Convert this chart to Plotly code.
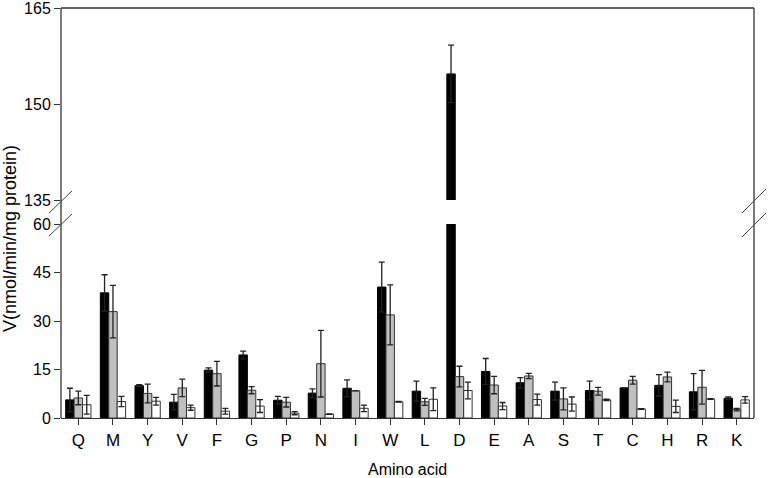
import plotly.graph_objects as go

amino_acids = ["Q","M","Y","V","F","G","P","N","I","W","L","D","E","A","S","T","C","H","R","K"]
black_vals = [5.6,38.7,10.0,4.9,14.8,19.5,5.5,7.7,9.2,40.5,8.3,154.7,14.4,10.9,8.3,8.5,9.3,10.1,8.1,6.1]
black_err  = [3.6,5.6,0.3,2.4,0.7,1.2,1.2,1.3,2.6,7.7,3.1,4.5,4.0,1.6,2.8,2.9,0.0,3.3,5.6,0.4]
gray_vals  = [6.2,32.9,7.6,9.3,13.7,8.6,4.9,16.8,8.4,31.9,5.0,12.8,10.2,13.0,5.9,8.3,11.7,12.7,9.5,2.6]
gray_err   = [2.1,8.1,2.9,2.7,3.8,1.1,1.5,10.3,0.0,9.3,1.1,3.2,2.7,0.8,3.4,1.2,1.2,1.5,5.2,0.4]
white_vals = [4.1,5.1,5.2,3.2,2.1,3.7,1.5,1.2,3.0,5.0,5.8,8.5,3.7,5.7,4.3,5.6,2.8,3.6,5.9,5.6]
white_err  = [2.9,1.6,1.2,0.8,0.9,2.0,0.5,0.1,1.0,0.1,3.5,2.6,1.1,1.7,2.2,0.2,0.1,1.9,0.1,1.0]
lower_ticks = [0, 15, 30, 45, 60]
upper_ticks = [135, 150, 165]

series = [
    (black_vals, black_err, "#000000", "#000000"),
    (gray_vals, gray_err, "#c0c0c0", "#333333"),
    (white_vals, white_err, "#ffffff", "#333333"),
]

fig = go.Figure()
for yax in ["y", "y2"]:
    for vals, errs, fill, line in series:
        fig.add_trace(go.Bar(
            x=amino_acids, y=vals, yaxis=yax, xaxis="x",
            marker=dict(color=fill, line=dict(color=line, width=1)),
            error_y=dict(type="data", array=errs, visible=True, color="#222222",
                         thickness=1.3, width=3),
            showlegend=False, hoverinfo="skip",
        ))

L, R, T, B = 61, 14, 8, 60
W, H = 768, 478
ph = H - T - B
pw = W - L - R
lower_top = (418 - 224) / ph
upper_bot = (418 - 200) / ph

def px(xp):
    return (xp - L) / pw

def py(yp):
    return (418 - yp) / ph

fig.update_layout(
    width=W, height=H,
    margin=dict(l=L, r=R, t=T, b=B, autoexpand=False),
    plot_bgcolor="white", paper_bgcolor="white",
    barmode="group", bargap=0.27, bargroupgap=0,
    font=dict(family="Liberation Sans, Arial", color="#000000"),
    xaxis=dict(range=[-0.5, 19.5], showline=True, linecolor="#333333", linewidth=1.3,
               ticks="outside", ticklen=6, tickcolor="#333333", tickfont=dict(size=17),
               showgrid=False, zeroline=False, anchor="y", automargin=False),
    yaxis=dict(domain=[0, lower_top], range=[0, 60], tickvals=lower_ticks,
               showline=False, ticks="outside", ticklen=6, tickcolor="#333333",
               tickfont=dict(size=16), showgrid=False, zeroline=False, automargin=False,
               ticklabeloverflow="allow"),
    yaxis2=dict(domain=[upper_bot, 1], range=[135, 165], tickvals=upper_ticks,
                showline=False, ticks="outside", ticklen=6, tickcolor="#333333",
                tickfont=dict(size=16), showgrid=False, zeroline=False, anchor="x",
                automargin=False, ticklabeloverflow="allow"),
)

line_style = dict(color="#333333", width=1.3)
shapes = [
    dict(type="line", xref="paper", yref="paper", x0=0, x1=0, y0=0, y1=1, line=line_style),
    dict(type="line", xref="paper", yref="paper", x0=1, x1=1, y0=0, y1=1, line=line_style),
    dict(type="line", xref="paper", yref="paper", x0=0, x1=1, y0=1, y1=1, line=line_style),
]
for (x0, y0, x1, y1) in [(49, 213, 72, 191), (49, 236, 72, 214),
                         (742, 213, 766, 189), (742, 237, 766, 213)]:
    shapes.append(dict(type="line", xref="paper", yref="paper",
                       x0=px(x0), y0=py(y0), x1=px(x1), y1=py(y1),
                       line=dict(color="#444444", width=1)))
fig.update_layout(shapes=shapes)

fig.add_annotation(text="V(nmol/min/mg protein)", xref="paper", yref="paper",
                   x=px(10), y=py(239), textangle=-90, showarrow=False,
                   font=dict(size=18), xanchor="center", yanchor="middle")
fig.add_annotation(text="Amino acid", xref="paper", yref="paper",
                   x=px(408), y=py(469), showarrow=False,
                   font=dict(size=16), xanchor="center", yanchor="middle")

fig.write_html("out.html", config={"displayModeBar": False},
               post_script="document.body.style.margin='0';document.body.style.overflow='hidden';")
